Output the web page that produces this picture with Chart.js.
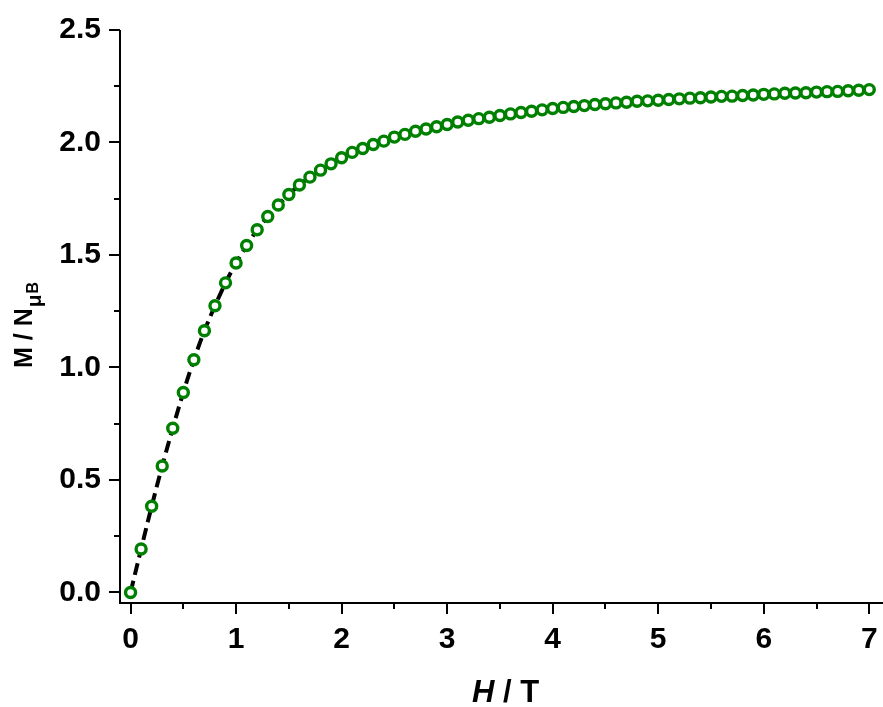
<!DOCTYPE html>
<html>
<head>
<meta charset="utf-8">
<script src="https://cdn.jsdelivr.net/npm/chart.js@4/dist/chart.umd.min.js"></script>
<style>
  html, body { margin: 0; padding: 0; background: #fff; }
  #wrap { width: 883px; height: 707px; }
</style>
</head>
<body>
<div id="wrap"><canvas id="c" width="883" height="707"></canvas></div>
<script>
// ---- data ----
const hField = [0.0,0.1,0.2,0.3,0.4,0.5,0.6,0.7,0.8,0.9,
  1.0,1.1,1.2,1.3,1.4,1.5,1.6,1.7,1.8,1.9,
  2.0,2.1,2.2,2.3,2.4,2.5,2.6,2.7,2.8,2.9,
  3.0,3.1,3.2,3.3,3.4,3.5,3.6,3.7,3.8,3.9,
  4.0,4.1,4.2,4.3,4.4,4.5,4.6,4.7,4.8,4.9,
  5.0,5.1,5.2,5.3,5.4,5.5,5.6,5.7,5.8,5.9,
  6.0,6.1,6.2,6.3,6.4,6.5,6.6,6.7,6.8,6.9,7.0];
const magnetization = [0.000,0.193,0.383,0.562,0.730,0.889,1.034,1.163,1.274,1.376,
  1.464,1.542,1.612,1.671,1.722,1.769,1.811,1.846,1.877,1.905,
  1.932,1.956,1.973,1.991,2.006,2.024,2.036,2.050,2.060,2.070,
  2.080,2.091,2.099,2.106,2.112,2.120,2.127,2.133,2.139,2.145,
  2.151,2.156,2.160,2.164,2.169,2.172,2.176,2.179,2.183,2.185,
  2.188,2.191,2.194,2.197,2.199,2.202,2.205,2.206,2.209,2.211,
  2.214,2.216,2.219,2.220,2.221,2.224,2.226,2.227,2.230,2.232,2.235];
const xTickValues = [0,1,2,3,4,5,6,7];
const xTickLabels = ['0','1','2','3','4','5','6','7'];
const xMinorTicks = [0.5,1.5,2.5,3.5,4.5,5.5,6.5];
const yTickValues = [0,0.5,1.0,1.5,2.0,2.5];
const yTickLabels = ['0.0','0.5','1.0','1.5','2.0','2.5'];
const yMinorTicks = [0.25,0.75,1.25,1.75,2.25];

const FONT = '"Liberation Sans", Arial, Helvetica, sans-serif';

const points = hField.map((h, i) => ({ x: h, y: magnetization[i] }));

const decor = {
  id: 'decor',
  beforeDatasetsDraw(chart) {
    const { ctx, chartArea: a, scales: { x, y } } = chart;
    ctx.save();
    ctx.strokeStyle = '#000';
    ctx.lineWidth = 2;
    ctx.lineCap = 'butt';
    ctx.beginPath();
    ctx.moveTo(a.left, a.top); ctx.lineTo(a.left, a.bottom + 1);
    ctx.moveTo(a.left - 1, a.bottom); ctx.lineTo(a.right, a.bottom);
    xTickValues.forEach(v => { const p = Math.round(x.getPixelForValue(v)); ctx.moveTo(p, a.bottom); ctx.lineTo(p, a.bottom + 11); });
    xMinorTicks.forEach(v => { const p = Math.round(x.getPixelForValue(v)); ctx.moveTo(p, a.bottom); ctx.lineTo(p, a.bottom + 6); });
    yTickValues.forEach(v => { const p = Math.round(y.getPixelForValue(v)); ctx.moveTo(a.left - 11, p); ctx.lineTo(a.left, p); });
    yMinorTicks.forEach(v => { const p = Math.round(y.getPixelForValue(v)); ctx.moveTo(a.left - 6, p); ctx.lineTo(a.left, p); });
    ctx.stroke();
    ctx.restore();
  },
  afterDraw(chart) {
    const { ctx, chartArea: a } = chart;
    ctx.save();
    ctx.fillStyle = '#000';
    ctx.textBaseline = 'alphabetic';
    const f1 = 'italic bold 31px ' + FONT;
    const f2 = 'bold 31px ' + FONT;
    ctx.font = f1; const w1 = ctx.measureText('H').width;
    ctx.font = f2; const w2 = ctx.measureText(' / T').width;
    const cx = (a.left + a.right) / 2 + 4;
    const sx = cx - (w1 + w2) / 2;
    ctx.font = f1; ctx.fillText('H', sx, 702);
    ctx.font = f2; ctx.fillText(' / T', sx + w1, 702);
    ctx.translate(32, 368);
    ctx.rotate(-Math.PI / 2);
    ctx.font = 'bold 25px ' + FONT;
    ctx.fillText('M / N', 0, 0);
    const wm = ctx.measureText('M / N').width;
    ctx.font = 'bold 21px ' + FONT;
    ctx.fillText('\u03BC', wm + 1, 9);
    const wmu = ctx.measureText('\u03BC').width;
    ctx.font = 'bold 16px ' + FONT;
    ctx.fillText('B', wm + 1 + wmu + 1, 6);
    ctx.restore();
  }
};

new Chart(document.getElementById('c'), {
  type: 'line',
  data: {
    datasets: [
      {
        label: 'data',
        data: points,
        showLine: false,
        pointStyle: 'circle',
        pointRadius: 5.0,
        pointHoverRadius: 5.0,
        pointBorderWidth: 3.4,
        pointBorderColor: '#008000',
        pointBackgroundColor: '#ffffff',
        borderColor: '#008000',
        backgroundColor: '#ffffff',
        order: 0
      },
      {
        label: 'fit',
        data: points,
        showLine: true,
        pointRadius: 0,
        borderColor: '#000000',
        borderWidth: 4,
        borderDash: [12, 6],
        cubicInterpolationMode: 'monotone',
        fill: false,
        order: 1
      }
    ]
  },
  options: {
    responsive: false,
    devicePixelRatio: 1,
    animation: false,
    events: [],
    layout: { autoPadding: false, padding: { top: 30, left: 0, right: 0, bottom: 0 } },
    plugins: { legend: { display: false }, tooltip: { enabled: false }, title: { display: false } },
    scales: {
      x: {
        type: 'linear',
        min: -0.1,
        max: 7.13,
        afterBuildTicks: s => { s.ticks = xTickValues.map(v => ({ value: v })); },
        afterFit: s => { s.height = 104; s.paddingLeft = 0; s.paddingRight = 0; },
        grid: { display: false, drawTicks: true, tickLength: 10 },
        border: { display: false },
        ticks: {
          padding: 9,
          maxRotation: 0,
          autoSkip: false,
          color: '#000',
          font: { family: FONT, size: 30, weight: 'bold' },
          callback: (v) => { const i = xTickValues.indexOf(v); return i >= 0 ? xTickLabels[i] : ''; }
        },
        title: { display: false }
      },
      y: {
        type: 'linear',
        min: -0.047,
        max: 2.5,
        afterBuildTicks: s => { s.ticks = yTickValues.map(v => ({ value: v })); },
        afterFit: s => { s.width = 120; s.paddingTop = 0; s.paddingBottom = 0; },
        grid: { display: false, drawTicks: true, tickLength: 10 },
        border: { display: false },
        ticks: {
          padding: 9,
          autoSkip: false,
          color: '#000',
          font: { family: FONT, size: 30, weight: 'bold' },
          callback: (v) => { const i = yTickValues.indexOf(v); return i >= 0 ? yTickLabels[i] : ''; }
        },
        title: { display: false }
      }
    }
  },
  plugins: [decor]
});
</script>
</body>
</html>
